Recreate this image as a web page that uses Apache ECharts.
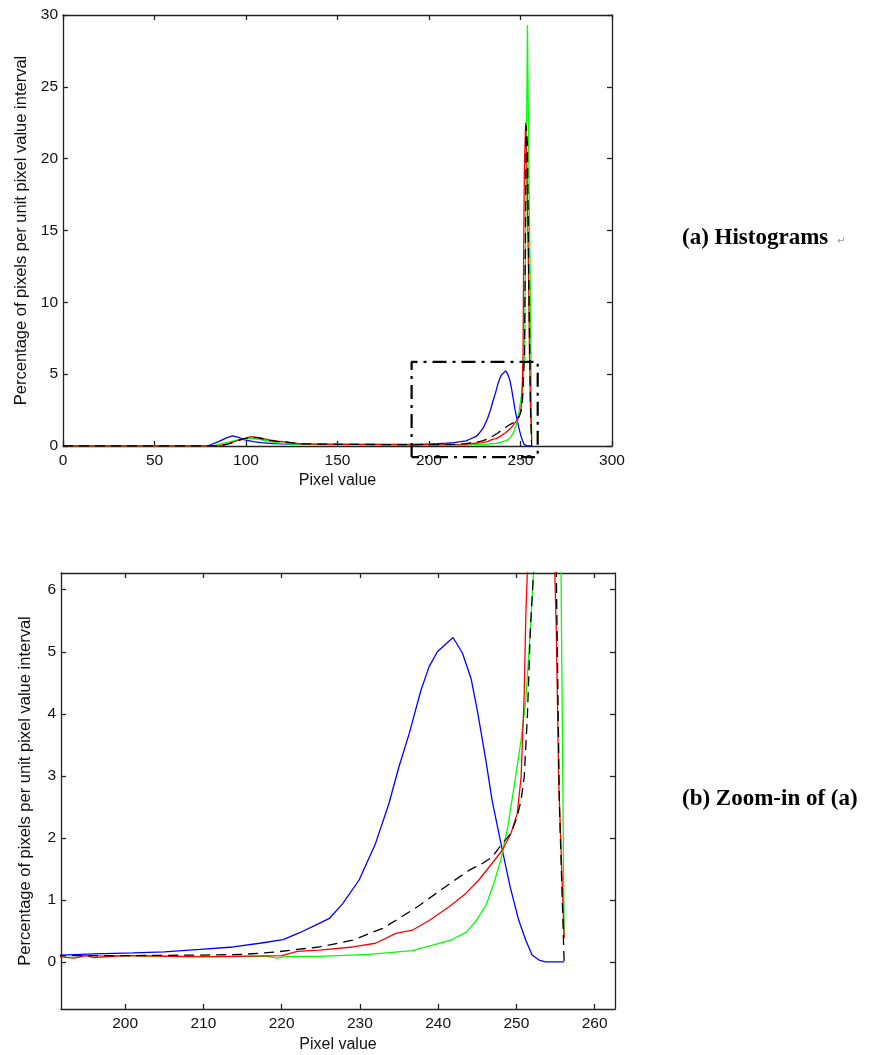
<!DOCTYPE html>
<html>
<head>
<meta charset="utf-8">
<script src="https://cdn.jsdelivr.net/npm/echarts@6/dist/echarts.min.js"></script>
<style>
body{margin:0;background:#fff;}
#chart{width:875px;height:1055px;}
</style>
</head>
<body>
<div id="chart"></div>
<script>
// histogram curves, [pixel value, percentage]
var blue = [[0,0],[79,0],[85,0.3],[89,0.55],[92.6,0.7],[96,0.6],[99.3,0.42],[104,0.3],[108.2,0.23],[115,0.17],[125,0.13],[150,0.12],[175,0.12],[191.8,0.11],[196,0.13],[201,0.145],[205,0.16],[209.6,0.2],[213.8,0.24],[217.2,0.3],[220.2,0.36],[222.3,0.47],[224.8,0.62],[226.1,0.7],[227.8,0.94],[229.9,1.32],[232,1.91],[233.7,2.55],[235,3.15],[236.3,3.68],[237.8,4.38],[238.85,4.76],[239.9,5.0],[241.9,5.23],[243.1,4.98],[244.2,4.57],[245,4.06],[246.1,3.25],[246.9,2.6],[248.2,1.8],[249.2,1.21],[250.3,0.67],[251.2,0.35],[252,0.11],[252.9,0.03],[253.7,0],[256.1,0]];
var green = [[0,0],[82,0],[88,0.2],[95,0.4],[103,0.55],[110,0.4],[116,0.25],[122,0.15],[140,0.1],[170,0.1],[191.8,0.1],[200,0.1],[210,0.09],[218,0.09],[219.5,0.06],[220.5,0.09],[224.8,0.09],[231.2,0.12],[236.7,0.18],[239.3,0.27],[241.8,0.36],[243.6,0.48],[244.8,0.65],[246.1,0.91],[247.1,1.26],[248,1.64],[248.9,2.18],[249.7,2.82],[250.6,3.58],[251.2,4.22],[251.8,5.4],[252.2,6.3],[252.8,14],[253.4,23],[253.8,29.3],[254.3,22.9],[255.2,12.5],[255.7,6.3],[256.1,0.4]];
var red = [[0,0],[85,0],[90,0.15],[96,0.4],[102.6,0.65],[107,0.58],[112.6,0.42],[117,0.33],[121.6,0.28],[130,0.15],[150,0.12],[175,0.1],[191.8,0.08],[193.5,0.06],[195,0.1],[196,0.07],[200,0.1],[210,0.08],[220,0.1],[222,0.17],[224.8,0.19],[229.1,0.24],[232,0.3],[234.6,0.46],[236.7,0.51],[238.9,0.67],[241.4,0.89],[243.5,1.1],[245.2,1.32],[246.9,1.59],[248.2,1.8],[249.3,2.07],[250.1,2.39],[250.6,2.98],[251,4.33],[251.2,5.56],[251.4,6.3],[251.7,13],[252.1,19.2],[252.8,22.5],[253.6,19],[254.4,12],[254.9,6.3],[255.1,5.35],[255.4,2.93],[256.1,0.38]];
var black = [[0,0],[86,0],[92,0.2],[97,0.45],[102.6,0.62],[107,0.56],[112.6,0.4],[117,0.32],[121.6,0.27],[130,0.15],[150,0.12],[175,0.1],[191.8,0.1],[200,0.1],[210,0.11],[215,0.12],[219.3,0.16],[222,0.2],[224.8,0.24],[229.1,0.35],[232.9,0.54],[235,0.7],[237.6,0.91],[239.7,1.1],[241.8,1.29],[244,1.48],[245.7,1.59],[246.9,1.69],[248.2,1.91],[249.3,2.07],[250.1,2.34],[250.6,2.61],[251,2.98],[251.4,3.95],[251.8,5.4],[252.2,6.3],[252.7,15],[253.1,22.3],[253.8,21],[254.5,12],[255.1,6.3],[255.5,2.5],[256.1,0]];

// zoom box drawn on (a)
var boxX = [190.5, 190.5, 259.4, 259.4, 190.5];
var boxY = [-0.77, 5.85, 5.85, -0.77, -0.77];

var topXTicks = [0, 50, 100, 150, 200, 250, 300];
var topYTicks = [0, 5, 10, 15, 20, 25, 30];
var zoomXTicks = [200, 210, 220, 230, 240, 250, 260];
var zoomYTicks = [0, 1, 2, 3, 4, 5, 6];

var FONT = 'Liberation Sans';
var yTitle = 'Percentage of pixels per unit pixel value interval';

function xAx(grid, min, max, ticks, pos, showLabel, gap){
	return {
		gridIndex: grid, type: 'value', min: min, max: max, position: pos,
		axisLine: {show: true, onZero: false, lineStyle: {color: '#222', width: 1.3}},
		axisTick: {show: true, inside: true, length: 5, customValues: ticks, lineStyle: {color: '#222', width: 1.3}},
		axisLabel: {show: showLabel, customValues: ticks, color: '#111', fontSize: 15.5, fontFamily: FONT, margin: 7},
		splitLine: {show: false},
		name: showLabel ? 'Pixel value' : '', nameLocation: 'middle', nameGap: gap,
		nameTextStyle: {color: '#111', fontSize: 16, fontFamily: FONT}
	};
}
function yAx(grid, min, max, ticks, pos, showLabel, gap){
	return {
		gridIndex: grid, type: 'value', min: min, max: max, position: pos,
		axisLine: {show: true, onZero: false, lineStyle: {color: '#222', width: 1.3}},
		axisTick: {show: true, inside: true, length: 5, customValues: ticks, lineStyle: {color: '#222', width: 1.3}},
		axisLabel: {show: showLabel, customValues: ticks, color: '#111', fontSize: 15.5, fontFamily: FONT, margin: 5},
		splitLine: {show: false},
		name: showLabel ? yTitle : '', nameLocation: 'middle', nameGap: gap,
		nameTextStyle: {color: '#111', fontSize: 16.5, fontFamily: FONT}
	};
}

function line(data, color, dashed, xi, yi){
	return {
		type: 'line', data: data, xAxisIndex: xi, yAxisIndex: yi,
		symbol: 'none', silent: true, animation: false,
		lineStyle: {color: color, width: 1.3, type: dashed ? [10, 6] : 'solid'}
	};
}

var my_chart = echarts.init(document.getElementById('chart'));
var series = [];
[0, 1].forEach(function(g){
	series.push(line(blue, '#0000ff', false, g * 2, g * 2));
	series.push(line(green, '#00ff00', false, g * 2, g * 2));
	series.push(line(red, '#ff0000', false, g * 2, g * 2));
	series.push(line(black, '#000000', true, g * 2, g * 2));
});
series.push({
	type: 'line', data: boxX.map(function(v, i){ return [v, boxY[i]]; }),
	xAxisIndex: 0, yAxisIndex: 0, symbol: 'none', silent: true, clip: false, animation: false,
	lineStyle: {color: '#000', width: 2.2, type: [14, 6, 3, 6]}, z: 5
});

my_chart.setOption({
	backgroundColor: '#fff',
	animation: false,
	grid: [
		{left: 63, top: 15, width: 549, height: 431},
		{left: 61, top: 573, width: 554, height: 436}
	],
	xAxis: [
		xAx(0, 0, 300, topXTicks, 'bottom', true, 27),
		xAx(0, 0, 300, topXTicks, 'top', false, 0),
		xAx(1, 191.8, 262.6, zoomXTicks, 'bottom', true, 28),
		xAx(1, 191.8, 262.6, zoomXTicks, 'top', false, 0)
	],
	yAxis: [
		yAx(0, 0, 30, topYTicks, 'left', true, 30),
		yAx(0, 0, 30, topYTicks, 'right', false, 0),
		yAx(1, -0.76, 6.27, zoomYTicks, 'left', true, 27),
		yAx(1, -0.76, 6.27, zoomYTicks, 'right', false, 0)
	],
	series: series,
	graphic: [
		{type: 'text', left: 682, top: 227, style: {text: '(a) Histograms', font: 'bold 23px "Liberation Serif"', fill: '#000'}},
		{type: 'text', left: 837, top: 236, style: {text: '\u21b5', font: '10px "DejaVu Sans"', fill: '#999'}},
		{type: 'text', left: 682, top: 788, style: {text: '(b) Zoom-in of (a)', font: 'bold 23px "Liberation Serif"', fill: '#000'}}
	]
});
</script>
</body>
</html>
